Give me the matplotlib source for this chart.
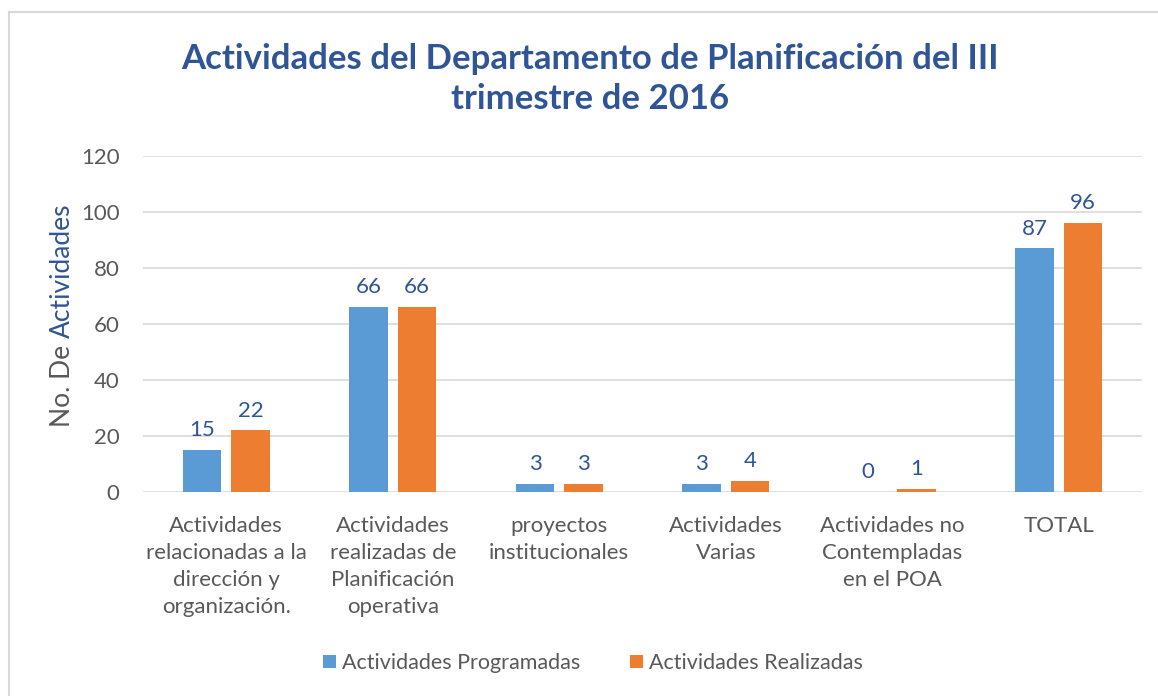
import matplotlib
matplotlib.use('Agg')
import matplotlib.pyplot as plt
from matplotlib.lines import Line2D
import numpy as np

plt.rcParams.update({'font.family': ['Lato', 'DejaVu Sans'], 'font.size': 14})

# data
categorias = ['Actividades\nrelacionadas a la\ndirección y\norganización.',
              'Actividades\nrealizadas de\nPlanificación\noperativa',
              'proyectos\ninstitucionales',
              'Actividades\nVarias',
              'Actividades no\nContempladas\nen el POA',
              'TOTAL']
programadas = [15, 66, 3, 3, 0, 87]
realizadas = [22, 66, 3, 4, 1, 96]
series = ['Actividades Programadas', 'Actividades Realizadas']
yticks = [0, 20, 40, 60, 80, 100, 120]

W, H = 1158, 696
fig = plt.figure(figsize=(W / 100, H / 100), dpi=100)
ax = fig.add_axes([143 / W, 1 - 492 / H, (1142 - 143) / W, (492 - 156) / H])

gray = '#595959'
blue_txt = '#2F5597'
x = np.arange(len(categorias))
w = 0.23
off = 0.145
b1 = ax.bar(x - off, programadas, w, color='#5B9BD5', label=series[0], zorder=3)
b2 = ax.bar(x + off, realizadas, w, color='#ED7D31', label=series[1], zorder=3)
for bars in (b1, b2):
    for r in bars:
        ax.annotate(f'{int(r.get_height())}', (r.get_x() + r.get_width() / 2, r.get_height()),
                    xytext=(0, 7), textcoords='offset points', ha='center', va='bottom',
                    color=blue_txt, fontsize=16)

ax.set_xlim(-0.5, len(categorias) - 0.5)
ax.set_ylim(0, 120)
ax.set_yticks(yticks)
ax.set_xticks(x)
ax.set_xticklabels(categorias, linespacing=1.45, color=gray, fontsize=16, va='top')
ax.tick_params(axis='both', length=0, colors=gray, labelsize=16)
ax.tick_params(axis='y', pad=17)
ax.tick_params(axis='x', pad=17)
ax.grid(axis='y', color='#D9D9D9', lw=1.2, zorder=0)
for s in ax.spines.values():
    s.set_visible(False)

# y label in two colours
t1 = fig.text(62 / W, 1 - 427 / H, 'No. De', rotation=90, ha='center', va='bottom',
              color=gray, fontsize=19)
fig.canvas.draw()
bb = t1.get_window_extent()
fig.text(62 / W, (bb.y1 + 7) / H, 'Actividades', rotation=90, ha='center', va='bottom',
         color=blue_txt, fontsize=19)

fig.text(590 / W, 1 - 79 / H, 'Actividades del Departamento de Planificación del III\ntrimestre de 2016',
         ha='center', va='center', fontsize=25, fontweight='bold', color=blue_txt, linespacing=1.28)

fig.legend(handles=[b1, b2], loc='center', bbox_to_anchor=(593 / W, 1 - 663 / H), ncol=2,
           frameon=False, fontsize=15.5, labelcolor=gray, handlelength=0.6, handleheight=0.6,
           columnspacing=2.3, handletextpad=0.3)

# chart border (left and top visible)
fig.add_artist(Line2D([9 / W, 9 / W], [0, 1 - 12 / H], color='#D9D9D9', lw=1.5))
fig.add_artist(Line2D([9 / W, 1], [1 - 12 / H, 1 - 12 / H], color='#D9D9D9', lw=1.5))

fig.savefig('out.png', dpi=100, facecolor='white')
